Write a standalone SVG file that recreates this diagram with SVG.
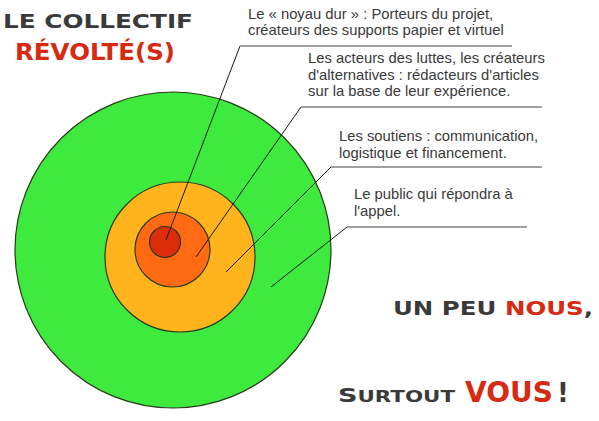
<svg xmlns="http://www.w3.org/2000/svg" width="599" height="421" viewBox="0 0 599 421">
<style>
.lbl{font-family:"Liberation Sans",Arial,sans-serif;font-size:14.8px;fill:#3a3a3a}
.comic{font-family:"DejaVu Sans",sans-serif;font-weight:bold}
.dk{fill:#3a3a3a}
.rd{fill:#d62a12}
.ring{stroke:#2a3a1a;stroke-width:1.2}
.diag{stroke:#1a1a1a;stroke-width:1;fill:none}
.hz{stroke:#808080;stroke-width:1.6;fill:none}
</style>
<rect width="599" height="421" fill="#ffffff"/>
<g id="circle-public"><circle cx="173" cy="250" r="158" fill="#3fea3f" class="ring"/></g>
<g id="circle-soutiens"><circle cx="180" cy="257" r="75" fill="#ffb31c" class="ring"/></g>
<g id="circle-acteurs"><circle cx="172.5" cy="249.5" r="37.5" fill="#ff6a12" class="ring"/></g>
<g id="circle-noyau"><circle cx="165" cy="242" r="15.5" fill="#dc2c0a" class="ring"/></g>
<g id="connectors">
<polyline class="diag" points="166,240 240,46"/>
<polyline class="hz" points="240,46 512,46"/>
<polyline class="diag" points="196,257 301,107"/>
<polyline class="hz" points="301,107 542,107"/>
<polyline class="diag" points="226,272 331,167"/>
<polyline class="hz" points="331,167 542,167"/>
<polyline class="diag" points="271,287 347,227"/>
<polyline class="hz" points="347,227 527,227"/>
</g>
<g id="label-noyau">
<text class="lbl" x="248" y="19">Le « noyau dur » : Porteurs du projet,</text>
<text class="lbl" x="248" y="35">créateurs des supports papier et virtuel</text>
</g>
<g id="label-acteurs">
<text class="lbl" x="308" y="63">Les acteurs des luttes, les créateurs</text>
<text class="lbl" x="308" y="79.5">d'alternatives : rédacteurs d'articles</text>
<text class="lbl" x="308" y="96">sur la base de leur expérience.</text>
</g>
<g id="label-soutiens">
<text class="lbl" x="339" y="141">Les soutiens : communication,</text>
<text class="lbl" x="339" y="158">logistique et financement.</text>
</g>
<g id="label-public">
<text class="lbl" x="354" y="199">Le public qui répondra à</text>
<text class="lbl" x="354" y="216">l'appel.</text>
</g>
<g id="title">
<text class="comic dk" x="3" y="28" font-size="20" textLength="190" lengthAdjust="spacingAndGlyphs">LE COLLECTIF</text>
<text class="comic rd" x="15" y="60" font-size="23" textLength="160" lengthAdjust="spacingAndGlyphs">RÉVOLTÉ(S)</text>
</g>
<g id="slogan">
<text class="comic" x="393" y="315" font-size="19" textLength="200" lengthAdjust="spacingAndGlyphs"><tspan class="dk">UN PEU </tspan><tspan class="rd">NOUS</tspan><tspan class="dk">,</tspan></text>
<text class="comic dk" x="338" y="402" font-size="15" textLength="117" lengthAdjust="spacingAndGlyphs"><tspan font-size="19">S</tspan>URTOUT</text>
<text class="comic rd" x="465" y="402" font-size="28">VOUS</text>
<text class="comic dk" x="557" y="402" font-size="26">!</text>
</g>
</svg>
